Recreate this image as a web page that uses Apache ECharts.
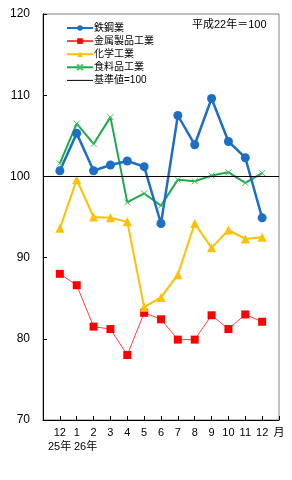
<!DOCTYPE html>
<html><head><meta charset="utf-8">
<script src="https://cdn.jsdelivr.net/npm/echarts@6/dist/echarts.min.js"></script>
<style>html,body{margin:0;padding:0;background:#fff}#c{width:292px;height:480px}</style>
</head><body><div id="c"></div>
<script>
const categories = ['', '12', '1', '2', '3', '4', '5', '6', '7', '8', '9', '10', '11', '12', '月'];
const yearLabels = ['25年', '26年'];
const steel = [100.7, 105.3, 100.7, 101.4, 101.9, 101.2, 94.2, 107.5, 103.9, 109.6, 104.3, 102.3, 94.9];
const metal = [88.0, 86.6, 81.5, 81.2, 78.0, 83.2, 82.4, 79.9, 79.9, 82.9, 81.2, 83.0, 82.1];
const chem = [93.6, 99.6, 95.0, 94.9, 94.4, 83.9, 85.1, 87.9, 94.2, 91.2, 93.4, 92.3, 92.5];
const food = [101.6, 106.5, 104.0, 107.3, 96.8, 97.9, 96.4, 99.6, 99.4, 100.1, 100.5, 99.2, 100.4];
const baseValue = 100;
const yTicks = [70, 80, 90, 100, 110, 120];

const pad = arr => [null].concat(arr).concat([null]);
const font = "'Liberation Sans','Noto Sans CJK JP',sans-serif";
const chart = echarts.init(document.getElementById('c'), null, {renderer: 'canvas'});
chart.setOption({
  animation: false,
  textStyle: {fontFamily: font},
  grid: {left: 43, right: 13, top: 14, bottom: 60, show: true, borderColor: '#808080', borderWidth: 1},
  legend: {
    orient: 'vertical', left: 66, top: 23, itemWidth: 26, itemHeight: 7, itemGap: 3.1, padding: 0,
    textStyle: {fontSize: 10, color: '#000', fontFamily: font, lineHeight: 10, padding: [0, 0, 0, -4]},
    data: ['鉄鋼業', '金属製品工業', '化学工業', '食料品工業', {name: '基準値=100', itemStyle: {opacity: 0}, lineStyle: {width: 1}}]
  },
  xAxis: {
    type: 'category', data: categories, boundaryGap: false,
    axisLine: {lineStyle: {color: '#000', width: 1}},
    axisTick: {inside: true, length: 4, interval: 0, lineStyle: {color: '#000'}},
    axisLabel: {interval: 0, fontSize: 11, color: '#000', margin: 7, fontFamily: font}
  },
  yAxis: {
    type: 'value', min: yTicks[0], max: yTicks[yTicks.length - 1], interval: 10,
    axisLine: {show: true, lineStyle: {color: '#000', width: 1}},
    axisTick: {show: true, inside: true, length: 4, lineStyle: {color: '#000'}},
    axisLabel: {fontSize: 12, color: '#000', margin: 13, fontFamily: font},
    splitLine: {show: false}
  },
  graphic: [
    {type: 'text', left: 192, top: 19, style: {text: '平成22年＝100', fontSize: 11, fill: '#000', fontFamily: font}},
    {type: 'text', left: 48, top: 441, style: {text: yearLabels[0], fontSize: 11, fill: '#000', fontFamily: font}},
    {type: 'text', left: 74, top: 441, style: {text: yearLabels[1], fontSize: 11, fill: '#000', fontFamily: font}}
  ],
  series: [
    {name: '基準値=100', type: 'line', data: [], color: '#000', symbol: 'none',
     lineStyle: {color: '#000', width: 1},
     markLine: {silent: true, symbol: 'none', label: {show: false}, lineStyle: {color: '#000', width: 1, type: 'solid'}, data: [{yAxis: baseValue}]}},
    {name: '食料品工業', type: 'line', data: pad(food), color: '#1EAA4A', symbol: 'path://M0,0L10,10M10,0L0,10', symbolSize: 6,
     lineStyle: {width: 2, color: '#1EAA4A'}, itemStyle: {color: '#1EAA4A', borderColor: '#40C060', borderWidth: 1}},
    {name: '金属製品工業', type: 'line', data: pad(metal), color: '#FF0000', symbol: 'rect', symbolSize: 8,
     lineStyle: {width: 1, color: '#FF4040'}, itemStyle: {color: '#FF0000'}},
    {name: '化学工業', type: 'line', data: pad(chem), color: '#FFC000', symbol: 'triangle', symbolSize: 9,
     lineStyle: {width: 2, color: '#FFC000'}, itemStyle: {color: '#FFC000'}},
    {name: '鉄鋼業', type: 'line', data: pad(steel), color: '#1C6FC4', symbol: 'circle', symbolSize: 9,
     lineStyle: {width: 2.5, color: '#1C6FC4'}, itemStyle: {color: '#1C6FC4'}}
  ]
});
</script></body></html>
